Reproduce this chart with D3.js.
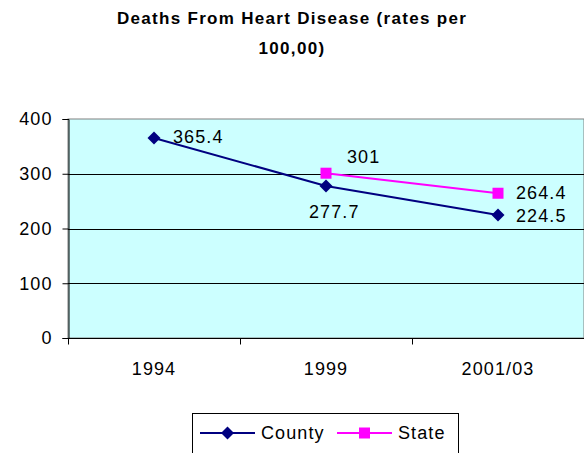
<!DOCTYPE html>
<html><head><meta charset="utf-8">
<script src="https://cdn.jsdelivr.net/npm/d3@7"></script>
<style>body{margin:0;background:#fff}svg{display:block}text{font-family:Arial,"Liberation Sans",sans-serif}</style>
</head><body>
<script>
const categories = ["1994", "1999", "2001/03"];
const countyValues = [365.4, 277.7, 224.5];
const stateValues = [null, 301, 264.4];
const yTicks = [0, 100, 200, 300, 400];
const titleLines = ["Deaths From Heart Disease (rates per", "100,00)"];

const W = 584, H = 453;
const m = {l: 68, r: 0, t: 119, b: 115};
const svg = d3.select("body").append("svg").attr("width", W).attr("height", H);

const x = d3.scaleBand().domain(categories).range([m.l, 584]);
const y = d3.scaleLinear().domain([0, 400]).range([338, 119]);
const FS = 18, LS = 1.1;

// title
svg.append("g").selectAll("text").data(titleLines).join("text")
  .attr("x", 292).attr("y", (d, i) => 24 + i * 30)
  .attr("text-anchor", "middle").attr("font-weight", "bold")
  .attr("font-size", 17).attr("letter-spacing", 1.3).text(d => d);

// plot area
svg.append("rect").attr("x", m.l).attr("y", 119).attr("width", 584 - m.l).attr("height", 338 - 119)
  .attr("fill", "#CCFFFF").attr("stroke", "#808080").attr("stroke-width", 1);

// grid
svg.append("g").selectAll("line").data(yTicks.filter(d => d > 0 && d < 400)).join("line")
  .attr("x1", m.l).attr("x2", 584).attr("y1", d => Math.round(y(d)) + 0.5).attr("y2", d => Math.round(y(d)) + 0.5)
  .attr("stroke", "#000").attr("stroke-width", 1);

// y axis
const ya = svg.append("g").attr("transform", `translate(${m.l + 0.5},0)`)
  .call(d3.axisLeft(y).tickValues(yTicks).tickSize(6).tickPadding(10));
ya.select(".domain").attr("stroke", "#000");
ya.selectAll("text").attr("font-size", FS).attr("letter-spacing", LS).attr("fill", "#000")
  .attr("font-family", "Arial,'Liberation Sans',sans-serif");
ya.selectAll("line").attr("stroke", "#000");

// x axis
const xa = svg.append("g").attr("transform", `translate(0,${338.5})`);
xa.append("line").attr("x1", m.l).attr("x2", 584).attr("stroke", "#000");
const bounds = categories.map(c => x(c)).concat([x(categories[categories.length - 1]) + x.bandwidth()]);
xa.selectAll(".tk").data(bounds).join("line").attr("class", "tk")
  .attr("x1", d => Math.round(d) + 0.5).attr("x2", d => Math.round(d) + 0.5).attr("y1", 0).attr("y2", 6).attr("stroke", "#000");
xa.selectAll("text").data(categories).join("text")
  .attr("x", d => x(d) + x.bandwidth() / 2).attr("y", 36.5)
  .attr("text-anchor", "middle").attr("font-size", FS).attr("letter-spacing", LS).text(d => d);

// series
const cx = c => x(c) + x.bandwidth() / 2;
const series = [
  {name: "County", values: countyValues, color: "#000080", marker: "diamond"},
  {name: "State", values: stateValues, color: "#FF00FF", marker: "square"}
];
const line = d3.line().defined(d => d.v != null).x(d => cx(d.c)).y(d => y(d.v));
function drawMarker(g, type, color, px, py) {
  if (type === "diamond") {
    g.append("path").attr("d", `M${px},${py - 6.5}L${px + 6.5},${py}L${px},${py + 6.5}L${px - 6.5},${py}Z`).attr("fill", color);
  } else {
    g.append("rect").attr("x", px - 5.5).attr("y", py - 5.5).attr("width", 11).attr("height", 11).attr("fill", color);
  }
}
series.forEach(s => {
  const pts = categories.map((c, i) => ({c, v: s.values[i]}));
  svg.append("path").datum(pts).attr("d", line).attr("fill", "none").attr("stroke", s.color).attr("stroke-width", 2);
  const g = svg.append("g");
  pts.filter(p => p.v != null).forEach(p => drawMarker(g, s.marker, s.color, cx(p.c), y(p.v)));
});

// data labels (offsets relative to point)
const labelOffsets = {
  County: [[19, 5], [-17, 32], [18, 7]],
  State: [[0, 0], [21, -10], [18, 6]]
};
series.forEach(s => {
  s.values.forEach((v, i) => {
    if (v == null) return;
    const o = labelOffsets[s.name][i];
    svg.append("text").attr("x", cx(categories[i]) + o[0]).attr("y", y(v) + o[1])
      .attr("font-size", FS).attr("letter-spacing", LS).attr("fill", "#000").text(String(v));
  });
});

// legend
const lg = svg.append("g");
lg.append("rect").attr("x", 192.5).attr("y", 413.5).attr("width", 266).attr("height", 50)
  .attr("fill", "#fff").attr("stroke", "#000");
const legendItems = [{s: series[0], x0: 200, tx: 261}, {s: series[1], x0: 337, tx: 398}];
legendItems.forEach(it => {
  const ly = 433;
  lg.append("line").attr("x1", it.x0).attr("x2", it.x0 + 55).attr("y1", ly).attr("y2", ly)
    .attr("stroke", it.s.color).attr("stroke-width", 2);
  drawMarker(lg, it.s.marker, it.s.color, it.x0 + 27.5, ly);
  lg.append("text").attr("x", it.tx).attr("y", ly + 6).attr("font-size", FS).attr("letter-spacing", LS).text(it.s.name);
});
</script>
</body></html>
